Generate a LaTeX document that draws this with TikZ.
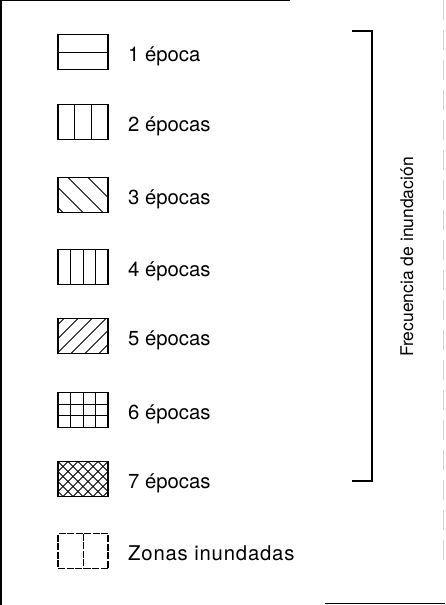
\documentclass[tikz,border=0pt]{standalone}
\usepackage{fontspec}
\setmainfont{TeX Gyre Heros}
\newfontfamily\spacedfont[LetterSpace=4]{TeX Gyre Heros}
\usetikzlibrary{calc}
\begin{document}
\begin{tikzpicture}[x=1pt,y=-1pt,
  legbox/.style={draw, line width=1.1pt, minimum width=50pt, minimum height=35pt, inner sep=0pt, outer sep=0pt},
  hatch/.style={line width=0.9pt},
  leglabel/.style={anchor=base west, inner sep=0pt, font=\fontsize{20.3}{24}\selectfont},
  frame/.style={line width=1.4pt}
]
\useasboundingbox (0,0) rectangle (445,605);
% scanned frame remnants
\draw[frame] (0,0.7) -- (290,0.7);
\draw[frame] (1,0) -- (1,605);
\draw[line width=0.4pt, gray!35, dash pattern=on 20pt off 10pt] (443.5,0) -- (443.5,565);
\draw[frame] (325,603.5) -- (445,603.5);

% 1 epoca
\node[legbox, path picture={\draw[hatch] (path picture bounding box.west) -- (path picture bounding box.east);}] (b1) at (83,52) {};
\node[leglabel] (t1) at (128,61) {1 época};
% 2 epocas
\node[legbox, path picture={\foreach \k in {16.7,33.3} \draw[hatch] ($(path picture bounding box.north west)+(\k,0)$) -- ++(0,40);}] (b2) at (83,122) {};
\node[leglabel] (t2) at (128,131) {2 épocas};
% 3 epocas
\node[legbox, path picture={\foreach \k in {-30,-10,10,30} \draw[hatch] ($(path picture bounding box.north west)+(\k,0)$) -- ++(50,50);}] (b3) at (83,195) {};
\node[leglabel] (t3) at (128,204) {3 épocas};
% 4 epocas
\node[legbox, path picture={\foreach \k in {12.5,25,37.5} \draw[hatch] ($(path picture bounding box.north west)+(\k,0)$) -- ++(0,40);}] (b4) at (83,267) {};
\node[leglabel] (t4) at (128,276) {4 épocas};
% 5 epocas
\node[legbox, path picture={\foreach \k in {6,20,34,48,62,76} \draw[hatch] ($(path picture bounding box.north west)+(\k,0)$) -- ++(-50,50);}] (b5) at (83,336) {};
\node[leglabel] (t5) at (128,345) {5 épocas};
% 6 epocas
\node[legbox, path picture={\foreach \k in {12.5,25,37.5} \draw[hatch] ($(path picture bounding box.north west)+(\k,0)$) -- ++(0,40);
  \foreach \k in {11.7,23.3} \draw[hatch] ($(path picture bounding box.north west)+(0,\k)$) -- ++(60,0);}] (b6) at (83,410) {};
\node[leglabel] (t6) at (128,419) {6 épocas};
% 7 epocas
\node[legbox, path picture={\foreach \k in {-40,-30,...,90} {\draw[hatch] ($(path picture bounding box.north west)+(\k,0)$) -- ++(50,50);
  \draw[hatch] ($(path picture bounding box.north west)+(\k,0)$) -- ++(-50,50);}}] (b7) at (83,479) {};
\node[leglabel] (t7) at (128,488) {7 épocas};
% Zonas inundadas
\node[legbox, dash pattern=on 7pt off 1.5pt, path picture={\draw[hatch, line width=1pt] (path picture bounding box.north) -- (path picture bounding box.south);}] (b8) at (83,551) {};
\node[leglabel] (t8) at (128,560) {\spacedfont Zonas inundadas};

% bracket
\coordinate (bt) at (352,31);
\coordinate (btr) at (372,31);
\coordinate (bbr) at (372,481);
\coordinate (bb) at (352,481);
\draw[line width=1.2pt] (bt) -- (btr) -- (bbr) -- (bb);
\node[rotate=90, anchor=base, inner sep=0pt] (freq) at (413,257) {\fontsize{17.5}{20}\selectfont Frecuencia de inundación};
\end{tikzpicture}
\end{document}
